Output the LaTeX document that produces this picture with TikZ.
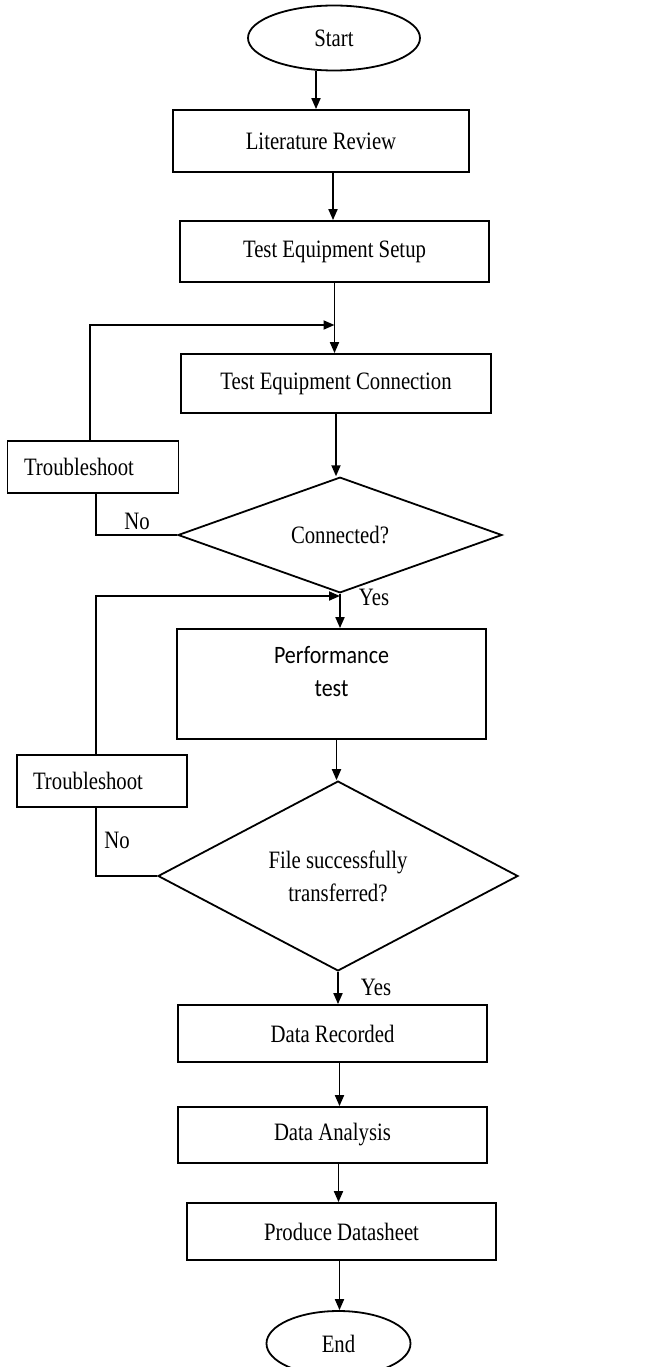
\documentclass[tikz,border=0pt]{standalone}
\usepackage{fontspec}
\setmainfont{Liberation Serif}[FakeStretch=0.83]
\newfontfamily\perffont{Carlito}[FakeStretch=0.88]
\usetikzlibrary{shapes.geometric,arrows.meta,calc}
\tikzset{
  base/.style={draw, line width=1.8pt, inner sep=0pt, font=\fontsize{25}{29}\selectfont},
  procbox/.style={base, rectangle},
  termbox/.style={base, ellipse},
  decbox/.style={base, diamond, align=center},
  flow/.style={line width=1.8pt, -{Triangle[length=11pt,width=9pt]}},
  plain/.style={line width=1.8pt},
  lbl/.style={font=\fontsize{25}{29}\selectfont, inner sep=0pt}
}
\begin{document}
\begin{tikzpicture}[x=1pt, y=-1pt]
\clip (0,0) rectangle (659,1367);
\fill[white] (0,0) rectangle (659,1367);

\node[termbox, minimum width=172pt, minimum height=65pt] (start) at (334,38) {Start};
\node[procbox, minimum width=296pt, minimum height=62pt] (lit) at (321,141) {Literature Review};
\node[procbox, minimum width=309pt, minimum height=61pt] (setup) at (334.5,251.5) {Test Equipment Setup};
\node[procbox, minimum width=310pt, minimum height=59pt] (conn) at (336,383.5) {Test Equipment Connection};
\node[procbox, minimum width=171pt, minimum height=52pt] (ts1) at (93,467) {\hspace*{-28pt}Troubleshoot};
\node[decbox, minimum width=324pt, minimum height=92pt] (d1) at (340,535) {Connected?};
\node[procbox, minimum width=309pt, minimum height=110pt, align=center] (perf) at (331.5,684) {\perffont Performance\\[4pt]\perffont test\\[-3pt]};
\node[procbox, minimum width=170pt, minimum height=52pt] (ts2) at (102,781) {\hspace*{-28pt}Troubleshoot};
\node[decbox, minimum width=360pt, minimum height=178pt] (d2) at (338,876) {File successfully\\[4pt]transferred?};
\node[procbox, minimum width=309pt, minimum height=57pt] (rec) at (332.5,1033.5) {Data Recorded};
\node[procbox, minimum width=309pt, minimum height=56pt] (ana) at (332.5,1135) {Data Analysis};
\node[procbox, minimum width=309pt, minimum height=57pt] (prod) at (341.5,1231.5) {Produce Datasheet};
\node[termbox, minimum width=144pt, minimum height=65pt] (endn) at (338.5,1343.5) {End};

% main flow
\draw[flow] ([xshift=-18pt]start.south) -- ([xshift=-18pt]start.south |- lit.north);
\draw[flow] ([xshift=12pt]lit.south) -- ([xshift=12pt]lit.south |- setup.north);
\draw[flow] (setup.south) -- (setup.south |- conn.north);
\draw[flow] (conn.south) -- (conn.south |- d1.north);
\draw[flow] (d1.south) -- (d1.south |- perf.north);
\draw[flow] ([xshift=5pt]perf.south) -- ([xshift=5pt]perf.south |- d2.north);
\draw[flow] (d2.south) -- (d2.south |- rec.north);
\draw[flow] ([xshift=7pt]rec.south) -- ([xshift=7pt]rec.south |- ana.north);
\draw[flow] ([xshift=6pt]ana.south) -- ([xshift=6pt]ana.south |- prod.north);
\draw[flow] ([xshift=-2pt]prod.south) -- ([xshift=-2pt]prod.south |- endn.north);

% loop 1
\coordinate (j1) at (setup.south |- 0,325);
\draw[flow] ([xshift=-3pt]ts1.north) |- (j1);
\draw[plain] (d1.west) -| ([xshift=3pt]ts1.south);
\node[lbl] (no1) at (137,521) {No};
\node[lbl] (yes1) at (374,597) {Yes};

% loop 2
\coordinate (j2) at (d1.south |- 0,596);
\draw[flow] ([xshift=-6pt]ts2.north) |- (j2);
\draw[plain] (d2.west) -| ([xshift=-6pt]ts2.south);
\node[lbl] (no2) at (117,840) {No};
\node[lbl] (yes2) at (376,987) {Yes};
\end{tikzpicture}
\end{document}
